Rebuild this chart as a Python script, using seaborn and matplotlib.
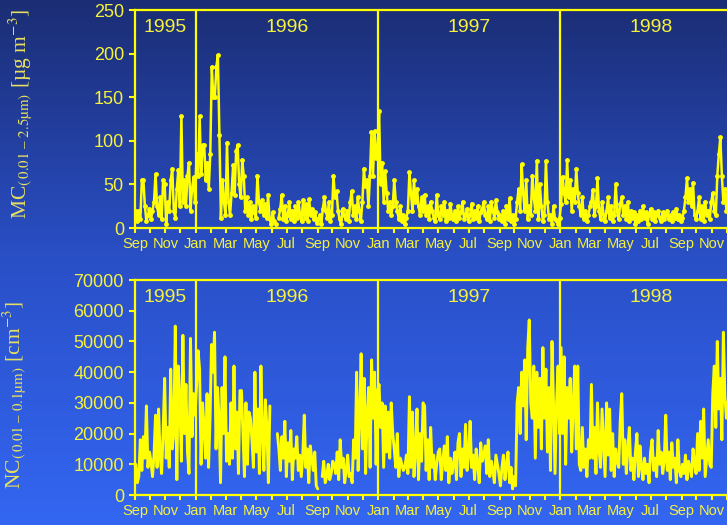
import numpy as np
import pandas as pd
import seaborn as sns
import matplotlib
matplotlib.use("Agg")
from matplotlib import pyplot as plt
import matplotlib.dates as mdates
from matplotlib.ticker import FuncFormatter

nan = np.nan

# mass concentration MC (ug m-3), roughly every 3 days, one row per month
mc_1995 = [20, 8, 20, 10, 55, 55, 25, 8, 15, 22,
           10, 20, 30, 62, 25, 15, 35, 10, 55, 50,
           5, 30, 20, 55, 68, 20, 12, 45, 67, 25,
           128, 30, 55, 25, 60, 75, 20, 45, 58, 30]
mc_1996 = [85, 60, 128, 62, 95, 95, 55, 75, 45, 85,
           185, 150, 150, 185, 198, 107, 12, 55, 30, 15,
           98, 30, 15, 40, 72, 38, 88, 95, 50, 35,
           78, 60, 20, 35, 15, 30, 10, 25, 18, 12,
           60, 30, 20, 32, 15, 28, 12, 38, 10, 5,
           18, 8, 5, nan, 12, 22, 38, 10, 25, 8,
           15, 30, 10, 20, 8, 25, 12, 30, 15, 8,
           32, 12, 28, 8, 33, 15, 22, 10, 18, 6,
           10, 15, 5, 22, 35, 20, 12, 30, 8, 15,
           60, 35, 42, 20, 10, 5, 22, 15, 10, 20,
           8, 30, 42, 15, 25, 10, 35, 20, 8, 30,
           68, 48, 55, 25, 60, 110, 60, 111, 80, 90]
mc_1997 = [134, 50, 75, 30, 65, 40, 20, 30, 15, 25,
           55, 30, 20, 10, 25, 8, 15, 5, 12, 20,
           64, 40, 20, 55, 30, 45, 25, 15, 35, 20,
           38, 15, 25, 10, 30, 20, 12, 8, 38, 15,
           10, 25, 15, 30, 8, 20, 12, 28, 15, 10,
           20, 8, 25, 12, 18, 30, 10, 15, 22, 8,
           15, 28, 10, 20, 12, 25, 8, 18, 22, 30,
           15, 10, 25, 8, 30, 20, 12, 32, 18, 10,
           15, 8, 20, 5, 25, 10, 34, 8, 15, 5,
           10, 30, 45, 20, 73, 40, 20, 55, 10, 25,
           15, 60, 35, 20, 77, 10, 50, 25, 8, 15,
           77, 30, 10, 15, 5, 25, 10, 8, 5, 12]
mc_1998 = [28, 59, 40, 30, 78, 35, 55, 20, 45, 30,
           68, 40, 25, 15, 35, 10, 20, 8, 15, 25,
           30, 44, 15, 25, 57, 20, 10, 30, 15, 8,
           20, 35, 12, 25, 8, 15, 51, 20, 10, 28,
           35, 15, 25, 10, 30, 8, 20, 12, 18, 5,
           15, 8, 20, 10, 25, 12, 18, 5, 15, 22,
           10, 18, 8, 15, 20, 12, 8, 18, 10, 15,
           20, 10, 15, 8, 18, 12, 22, 10, 15, 8,
           12, 20, 35, 57, 30, 45, 25, 52, 15, 10,
           20, 35, 10, 25, 8, 30, 15, 20, 10, 30,
           40, 20, 15, 60, 85, 104, 60, 30, 45, 20,
           40, 55, 30, 20, 35, 50, 25, 30, 20, 40]

# number concentration NC (thousand cm-3)
nc_1995 = [10, 4, 6, 18, 8, 19, 12, 29, 9, 14,
           11, 6, 13, 26, 9, 28, 13, 7, 21, 38,
           12, 22, 9, 41, 15, 20, 55, 5, 42, 30,
           11, 52, 20, 36, 14, 7, 51, 19, 33, 26]
nc_1996 = [36, 47, 41, 10, 30, 22, 12, 33, 9, 25,
           49, 40, 53, 15, 35, 25, 4, 35, 20, 45,
           11, 20, 10, 30, 12, 42, 15, 27, 7, 34,
           34, 20, 6, 30, 10, 27, 25, 18, 9, 40,
           14, 28, 7, 42, 20, 8, 31, 22, 4, 29,
           nan, nan, nan, nan, 20, 15, 8, 19, 12, 24,
           6, 17, 11, 21, 5, 15, 12, 19, 8, 13,
           6, 13, 26, 9, 15, 4, 16, 12, 8, 14,
           3, 2, nan, nan, 6, 11, 4, 6, 10, 5,
           7, 11, 10, 7, 14, 5, 18, 9, 12, 4,
           8, 13, 6, 7, 4, 18, 12, 40, 8, 25,
           46, 15, 38, 7, 26, 35, 9, 44, 25, 40, 10, 34]
nc_1997 = [36, 22, 30, 9, 29, 14, 27, 12, 30, 20,
           15, 9, 20, 6, 12, 10, 8, 9, 13, 7,
           32, 9, 27, 6, 14, 28, 5, 20, 11, 30,
           29, 8, 18, 5, 22, 9, 13, 5, 10, 14,
           15, 5, 11, 16, 8, 19, 4, 12, 7, 10,
           14, 5, 17, 20, 6, 15, 9, 23, 8, 13,
           24, 9, 13, 5, 15, 10, 4, 17, 11, 13,
           16, 7, 18, 6, 11, 8, 4, 13, 10, 7,
           3, 9, 13, 5, 10, 14, 4, 9, 2, 6,
           3, 30, 35, 20, 40, 29, 44, 18, 48, 57,
           30, 25, 42, 12, 40, 22, 38, 15, 48, 25,
           41, 14, 35, 8, 50, 30, 7, 30, 42, 20]
nc_1998 = [48, 20, 45, 10, 35, 25, 38, 14, 30, 42,
           15, 42, 10, 8, 22, 9, 15, 6, 18, 12,
           36, 12, 22, 7, 30, 15, 9, 28, 17, 6,
           30, 13, 28, 8, 20, 6, 15, 11, 9, 24,
           33, 10, 18, 7, 15, 22, 8, 12, 5, 14,
           20, 6, 16, 9, 5, 12, 7, 10, 4, 14,
           18, 8, 12, 6, 21, 10, 14, 7, 11, 26,
           8, 14, 5, 17, 9, 12, 4, 18, 8, 6,
           10, 7, 13, 5, 11, 9, 6, 15, 10, 7,
           20, 8, 24, 12, 28, 6, 12, 18, 10, 9,
           33, 42, 22, 50, 28, 38, 18, 53, 32, 25,
           30, 40, 22, 35, 15, 28, 20, 33, 18, 25]

year_spans = [("1995", "1995-09-01", "1996-01-01"),
              ("1996", "1996-01-01", "1997-01-01"),
              ("1997", "1997-01-01", "1998-01-01"),
              ("1998", "1998-01-01", "1999-01-01")]


def build(series, scale=1.0):
    frames = []
    for (_, start, end), vals in zip(year_spans, series):
        t0, t1 = pd.Timestamp(start), pd.Timestamp(end)
        step = (t1 - t0) / len(vals)
        dates = [t0 + step * (i + 0.5) for i in range(len(vals))]
        frames.append(pd.DataFrame({"date": dates, "value": np.array(vals, float) * scale}))
    df = pd.concat(frames, ignore_index=True)
    df["seg"] = df["value"].isna().cumsum()
    return df.dropna()


mc = build([mc_1995, mc_1996, mc_1997, mc_1998])
nc = build([nc_1995, nc_1996, nc_1997, nc_1998], scale=1000)

sns.set_theme(style="ticks")
plt.rcParams["font.family"] = ["Liberation Sans", "DejaVu Sans"]
plt.rcParams["mathtext.fontset"] = "stix"

LINE = "#ffff00"
TXT = "#f6f23c"
LAB = "#e8e060"

fig = plt.figure(figsize=(7.27, 5.25), dpi=100)

# blue gradient background
bg = fig.add_axes([0, 0, 1, 1], zorder=-10)
stops = np.array([[27, 45, 116], [42, 80, 200], [51, 102, 242]]) / 255
t = np.linspace(0, 1, 256)
grad = np.stack([np.interp(t, [0, 0.5, 1], stops[:, k]) for k in range(3)], axis=-1)
bg.imshow(grad[:, None, :], aspect="auto", extent=[0, 1, 0, 1])
bg.axis("off")

ax_top = fig.add_axes([0.1857, 0.5657, 0.8354, 0.4152])
ax_bot = fig.add_axes([0.1857, 0.0571, 0.8354, 0.4095])


def month_fmt(x, pos):
    d = mdates.num2date(x)
    return d.strftime("%b") if d.month % 2 == 1 else ""


def style(ax, ylim, yticks):
    ax.set_facecolor("none")
    ax.set_xlim(pd.Timestamp("1995-09-01"), pd.Timestamp("1999-01-01"))
    ax.set_ylim(*ylim)
    ax.set_yticks(yticks)
    for s in ["left", "top", "bottom"]:
        ax.spines[s].set_color(LINE)
        ax.spines[s].set_linewidth(1.6)
    ax.spines["right"].set_visible(False)
    ax.xaxis.set_major_locator(mdates.MonthLocator())
    ax.xaxis.set_major_formatter(FuncFormatter(month_fmt))
    ax.tick_params(axis="x", colors=LINE, labelcolor=TXT, labelsize=10.5,
                   length=3.5, width=1.5, pad=3)
    ax.tick_params(axis="y", colors=LINE, labelcolor=TXT, labelsize=13,
                   length=4, width=1.5, pad=4)
    for name, start, end in year_spans:
        t0, t1 = pd.Timestamp(start), pd.Timestamp(end)
        if name != "1995":
            ax.axvline(t0, color=LINE, lw=1.6)
        ax.text(t0 + (t1 - t0) / 2, 0.92, name, transform=ax.get_xaxis_transform(),
                ha="center", va="center", color=TXT, fontsize=14)
    ax.set_xlabel("")


sns.lineplot(data=mc, x="date", y="value", units="seg", estimator=None,
             color=LINE, lw=1.8, marker="o", markersize=3.5, markeredgewidth=0,
             ax=ax_top, legend=False)
style(ax_top, (0, 250), range(0, 251, 50))
ax_top.set_ylabel(r"MC$_{\mathrm{(\,0.01\ –\ 2.5µm)}}$ [µg m$^{\mathrm{-3}}$]",
                  fontfamily="Liberation Serif", fontsize=15.5, color=LAB)
ax_top.yaxis.set_label_coords(-0.166, 0.522)

sns.lineplot(data=nc, x="date", y="value", units="seg", estimator=None,
             color=LINE, lw=2.1, ax=ax_bot, legend=False)
style(ax_bot, (0, 70000), range(0, 70001, 10000))
ax_bot.set_ylabel(r"NC$_{\mathrm{(\,0.01\ –\ 0.1µm)}}$ [cm$^{\mathrm{-3}}$]",
                  fontfamily="Liberation Serif", fontsize=15.5, color=LAB)
ax_bot.yaxis.set_label_coords(-0.176, 0.465)

fig.savefig("out.png", dpi=100)
